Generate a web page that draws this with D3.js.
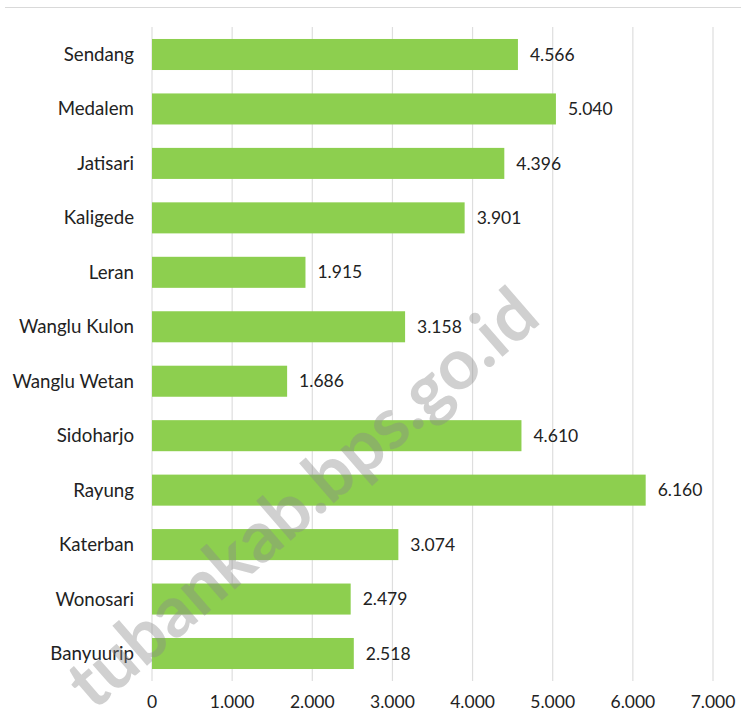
<!DOCTYPE html>
<html>
<head>
<meta charset="utf-8">
<script src="https://cdn.jsdelivr.net/npm/d3@7"></script>
<style>
  body { margin: 0; background: #fff; }
  text { font-family: Lato, "Open Sans", sans-serif; fill: #222; }
</style>
</head>
<body>
<div id="chart"></div>
<script>
// data
const villages = ["Sendang", "Medalem", "Jatisari", "Kaligede", "Leran", "Wanglu Kulon",
  "Wanglu Wetan", "Sidoharjo", "Rayung", "Katerban", "Wonosari", "Banyuurip"];
const values = [4566, 5040, 4396, 3901, 1915, 3158, 1686, 4610, 6160, 3074, 2479, 2518];
const xTicks = [0, 1000, 2000, 3000, 4000, 5000, 6000, 7000];

const width = 747, height = 723;
const margin = { top: 27, bottom: 42, left: 152, right: 34 };

const fmt = d => d3.format(",")(d).replace(/,/g, ".");

const svg = d3.select("#chart").append("svg")
  .attr("width", width).attr("height", height);

// top rule
svg.append("line")
  .attr("x1", 5).attr("x2", 741).attr("y1", 7.5).attr("y2", 7.5)
  .attr("stroke", "#d9d9d9").attr("stroke-width", 1);

const x = d3.scaleLinear().domain([0, 7000]).range([margin.left, width - margin.right]);
const y = d3.scaleBand().domain(villages)
  .range([margin.top, height - margin.bottom]).paddingInner(0.43).paddingOuter(0.22);

// gridlines
svg.append("g").selectAll("line")
  .data(xTicks).join("line")
  .attr("x1", d => x(d)).attr("x2", d => x(d))
  .attr("y1", margin.top).attr("y2", height - margin.bottom)
  .attr("stroke", "#dedede").attr("stroke-width", 1.2);

// bars
svg.append("g").selectAll("rect")
  .data(values).join("rect")
  .attr("x", x(0))
  .attr("y", (d, i) => y(villages[i]))
  .attr("width", d => x(d) - x(0))
  .attr("height", y.bandwidth())
  .attr("fill", "#8dcf4f");

// value labels
svg.append("g").selectAll("text")
  .data(values).join("text")
  .attr("x", d => x(d) + 12)
  .attr("y", (d, i) => y(villages[i]) + y.bandwidth() / 2)
  .attr("dy", "0.35em")
  .attr("font-size", 17.5)
  .text(d => fmt(d));

// category labels
svg.append("g").selectAll("text")
  .data(villages).join("text")
  .attr("x", 134)
  .attr("y", d => y(d) + y.bandwidth() / 2)
  .attr("dy", "0.35em")
  .attr("text-anchor", "end")
  .attr("font-size", 18.7)
  .text(d => d);

// x tick labels
svg.append("g").selectAll("text")
  .data(xTicks).join("text")
  .attr("x", d => x(d))
  .attr("y", 708)
  .attr("text-anchor", "middle")
  .attr("font-size", 17.5)
  .text(d => fmt(d));

// watermark
svg.append("text")
  .attr("transform", "translate(302,498) rotate(-41)")
  .attr("text-anchor", "middle")
  .attr("dy", "0.35em")
  .attr("font-size", 71)
  .attr("font-weight", "bold")
  .style("fill", "#8a8a8a")
  .style("fill-opacity", 0.4)
  .text("tubankab.bps.go.id");
</script>
</body>
</html>
